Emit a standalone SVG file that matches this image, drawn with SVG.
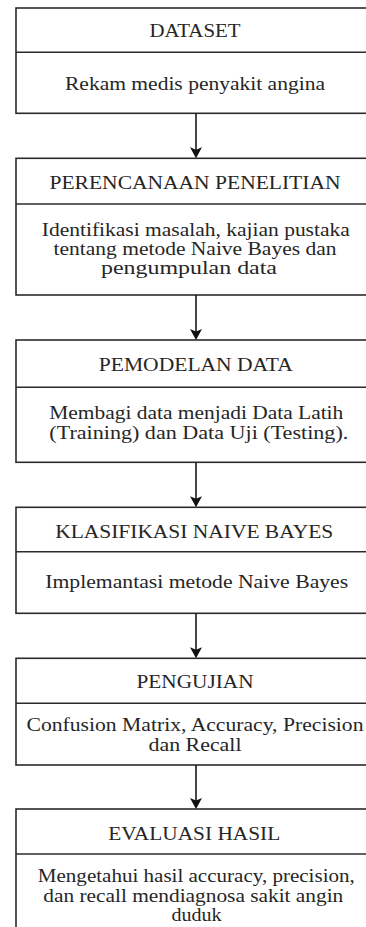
<svg xmlns="http://www.w3.org/2000/svg" width="366" height="927" viewBox="0 0 366 927">
  <style>
    .box { fill: #ffffff; stroke: #2b2b2b; stroke-width: 1.6; }
    .sep { stroke: #2b2b2b; stroke-width: 1.6; fill: none; }
    .lbl { font-family: "Liberation Serif", "Times New Roman", serif; font-size: 18px; fill: #262626; text-anchor: middle; }
    .wire { stroke: #1a1a1a; stroke-width: 1.6; fill: none; }
    .head { fill: #111111; }
  </style>
  <defs>
    <!-- filled down-pointing arrowhead, tip at (0,0) -->
    <polygon id="tip" class="head" points="0,0 -6,-11 0,-8.5 6,-11"/>
  </defs>
  <rect width="366" height="927" fill="#ffffff"/>

  <g id="dataset">
    <rect class="box" x="16" y="8" width="360" height="105.3"/>
    <line class="sep" x1="16" y1="52.3" x2="376" y2="52.3"/>
    <text class="lbl" x="195" y="37" textLength="91" lengthAdjust="spacingAndGlyphs">DATASET</text>
    <text class="lbl" x="195" y="89.5" textLength="260" lengthAdjust="spacingAndGlyphs">Rekam medis penyakit angina</text>
  </g>

  <g id="perencanaan">
    <rect class="box" x="16" y="158.3" width="360" height="136.7"/>
    <line class="sep" x1="16" y1="204" x2="376" y2="204"/>
    <text class="lbl" x="195" y="188.5" textLength="291" lengthAdjust="spacingAndGlyphs">PERENCANAAN PENELITIAN</text>
    <text class="lbl" x="195.8" y="235.7" textLength="308" lengthAdjust="spacingAndGlyphs">Identifikasi masalah, kajian pustaka</text>
    <text class="lbl" x="195" y="254.7" textLength="283" lengthAdjust="spacingAndGlyphs">tentang metode Naive Bayes dan</text>
    <text class="lbl" x="189" y="273.7" textLength="176" lengthAdjust="spacingAndGlyphs">pengumpulan data</text>
  </g>

  <g id="pemodelan">
    <rect class="box" x="16" y="340" width="360" height="122.3"/>
    <line class="sep" x1="16" y1="387.3" x2="376" y2="387.3"/>
    <text class="lbl" x="195.8" y="371" textLength="194" lengthAdjust="spacingAndGlyphs">PEMODELAN DATA</text>
    <text class="lbl" x="196.3" y="419.3" textLength="294" lengthAdjust="spacingAndGlyphs">Membagi data menjadi Data Latih</text>
    <text class="lbl" x="198.8" y="438.5" textLength="299" lengthAdjust="spacingAndGlyphs">(Training) dan Data Uji (Testing).</text>
  </g>

  <g id="klasifikasi">
    <rect class="box" x="16" y="507.3" width="360" height="106"/>
    <line class="sep" x1="16" y1="551.7" x2="376" y2="551.7"/>
    <text class="lbl" x="194.2" y="537.7" textLength="278" lengthAdjust="spacingAndGlyphs">KLASIFIKASI NAIVE BAYES</text>
    <text class="lbl" x="196.7" y="587.7" textLength="303" lengthAdjust="spacingAndGlyphs">Implemantasi metode Naive Bayes</text>
  </g>

  <g id="pengujian">
    <rect class="box" x="16" y="658.3" width="360" height="106.7"/>
    <line class="sep" x1="16" y1="703.3" x2="376" y2="703.3"/>
    <text class="lbl" x="195" y="688.3" textLength="117" lengthAdjust="spacingAndGlyphs">PENGUJIAN</text>
    <text class="lbl" x="195" y="730.7" textLength="337" lengthAdjust="spacingAndGlyphs">Confusion Matrix, Accuracy, Precision</text>
    <text class="lbl" x="195" y="751" textLength="93" lengthAdjust="spacingAndGlyphs">dan Recall</text>
  </g>

  <g id="evaluasi">
    <rect class="box" x="16" y="809" width="360" height="140"/>
    <line class="sep" x1="16" y1="854" x2="376" y2="854"/>
    <text class="lbl" x="194.2" y="840" textLength="172" lengthAdjust="spacingAndGlyphs">EVALUASI HASIL</text>
    <text class="lbl" x="196.3" y="881.5" textLength="317" lengthAdjust="spacingAndGlyphs">Mengetahui hasil accuracy, precision,</text>
    <text class="lbl" x="193.3" y="901.5" textLength="300" lengthAdjust="spacingAndGlyphs">dan recall mendiagnosa sakit angin</text>
    <text class="lbl" x="196.5" y="921" textLength="50" lengthAdjust="spacingAndGlyphs">duduk</text>
  </g>

  <g id="connectors">
    <line class="wire" x1="196" y1="113.3" x2="196" y2="150"/>
    <use href="#tip" x="196" y="158.3"/>
    <line class="wire" x1="196" y1="295" x2="196" y2="332"/>
    <use href="#tip" x="196" y="340"/>
    <line class="wire" x1="196" y1="462.3" x2="196" y2="499"/>
    <use href="#tip" x="196" y="507.3"/>
    <line class="wire" x1="196" y1="613.3" x2="196" y2="650"/>
    <use href="#tip" x="196" y="658.3"/>
    <line class="wire" x1="196" y1="765" x2="196" y2="801"/>
    <use href="#tip" x="196" y="809"/>
  </g>
</svg>
